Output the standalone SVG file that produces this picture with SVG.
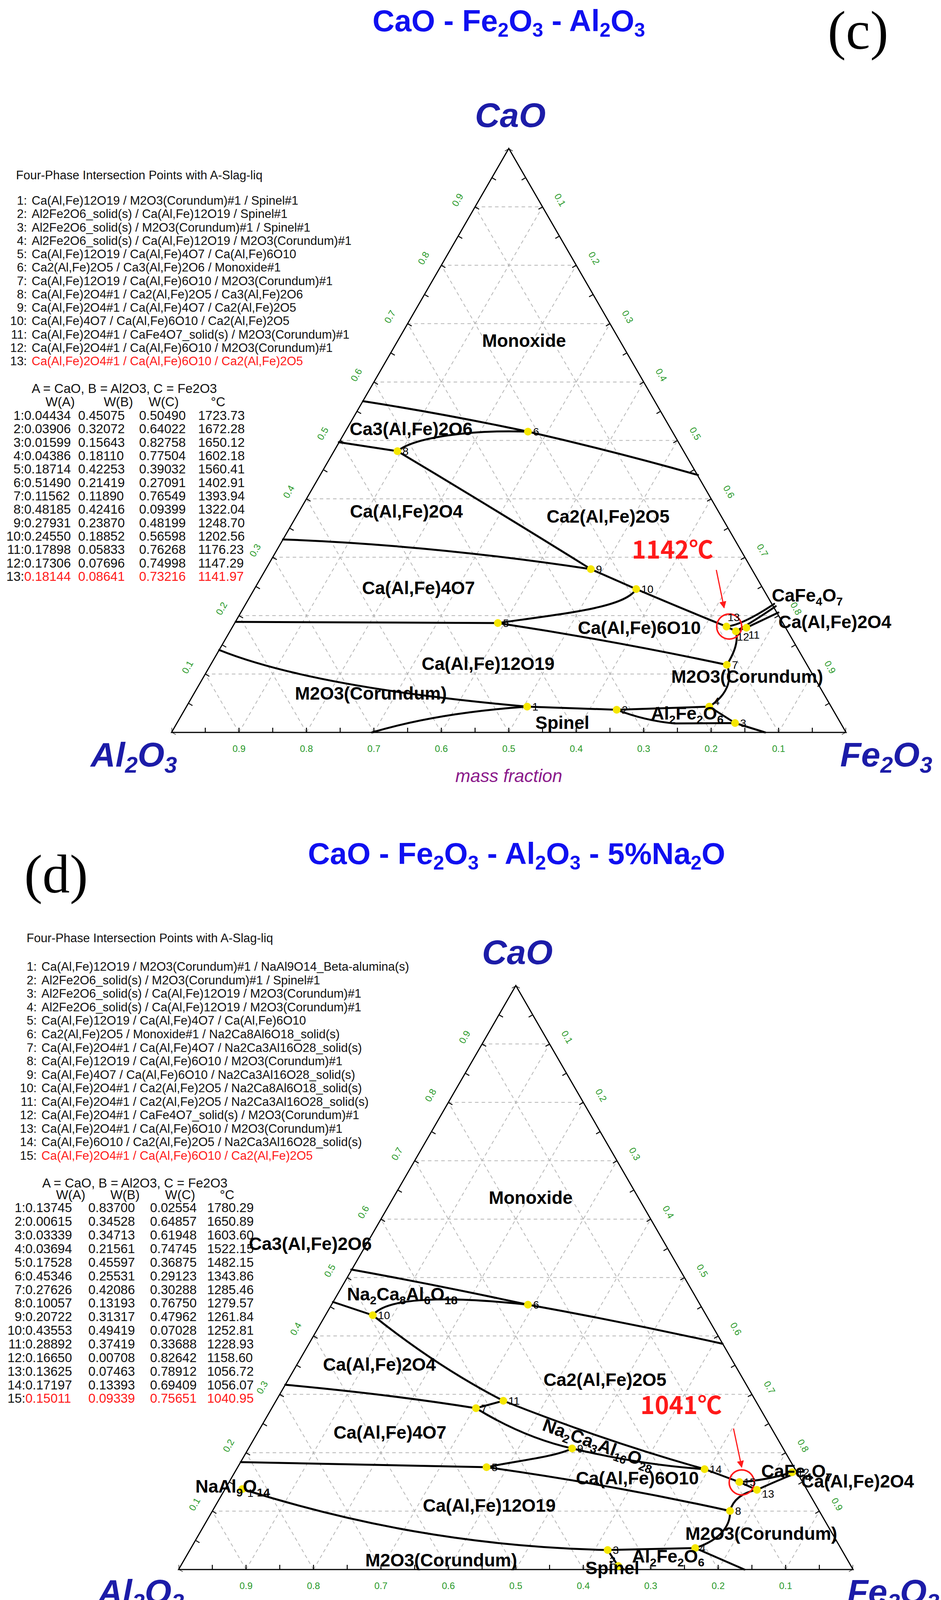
<svg xmlns="http://www.w3.org/2000/svg" xmlns:xlink="http://www.w3.org/1999/xlink" width="2408" height="4178" viewBox="0 0 2408 4178">
<style>
text{font-family:"Liberation Sans",Arial,sans-serif}
.ttl{font-weight:bold;font-size:78px;fill:#1010f0}
.pl{font-family:"Liberation Serif",serif;font-size:140px;fill:#000}
.ax{font-weight:bold;font-style:italic;font-size:88px;fill:#1c1ca8}
.mf{font-style:italic;font-size:46px;fill:#8b1a8b}
.tk{font-size:24px;fill:#2a9a2a}
.lab{font-weight:bold;font-size:46px;fill:#000}
.num{font-size:28px;fill:#000}
.lst{font-size:31px;fill:#111}
.tbl{font-size:33px;fill:#111}
.red{fill:#ff1a1a}
.tmp{font-family:"Noto Sans CJK SC","Liberation Sans",sans-serif;font-size:62px;fill:#ff1a1a}
.grid{fill:none;stroke:#b5b5b5;stroke-width:2;stroke-dasharray:9 8}
.edge{fill:none;stroke:#000;stroke-width:3}
.tick{fill:none;stroke:#000;stroke-width:12;stroke-dasharray:2.5 83.8;stroke-dashoffset:1.25}
.bd{fill:none;stroke:#000;stroke-width:5;stroke-linejoin:round;stroke-linecap:round}
.pt{fill:#f5e600}
.arr{stroke:#ff1a1a;stroke-width:3;fill:none}
.cir{stroke:#ff1a1a;stroke-width:4;fill:none}
</style>
<defs>
<marker id="ah" viewBox="0 0 10 10" refX="9" refY="5" markerWidth="6" markerHeight="6" orient="auto"><path d="M0 0L10 5L0 10z" fill="#ff1a1a"/></marker>
<g id="frame">
<path class="grid" d="M525.3 1725.5H2078.7M611.6 1576H1992.4M697.9 1426.5H1906.1M784.2 1277H1819.8M870.5 1127.5H1733.5M956.8 978H1647.2M1043.1 828.5H1560.9M1129.4 679H1474.6M1215.7 529.5H1388.3
M611.6 1875L1388.3 529.5M784.2 1875L1474.6 679M956.8 1875L1560.9 828.5M1129.4 1875L1647.2 978M1302 1875L1733.5 1127.5M1474.6 1875L1819.8 1277M1647.2 1875L1906.1 1426.5M1819.8 1875L1992.4 1576M1992.4 1875L2078.7 1725.5
M1992.4 1875L1215.7 529.5M1819.8 1875L1129.4 679M1647.2 1875L1043.1 828.5M1474.6 1875L956.8 978M1302 1875L870.5 1127.5M1129.4 1875L784.2 1277M956.8 1875L697.9 1426.5M784.2 1875L611.6 1576M611.6 1875L525.3 1725.5"/>
<path class="tick" d="M439 1869H2165"/>
<path class="tick" d="M444.2 1878L1307.2 383"/>
<path class="tick" d="M2159.8 1878L1296.8 383"/>
<path class="edge" d="M1302 380L2165 1875H439Z"/>
<g class="tk" text-anchor="middle">
<text transform="translate(1178 516) rotate(-60)">0.9</text>
<text transform="translate(1091 665) rotate(-60)">0.8</text>
<text transform="translate(1005 815) rotate(-60)">0.7</text>
<text transform="translate(919 964) rotate(-60)">0.6</text>
<text transform="translate(833 1114) rotate(-60)">0.5</text>
<text transform="translate(746 1263) rotate(-60)">0.4</text>
<text transform="translate(660 1413) rotate(-60)">0.3</text>
<text transform="translate(574 1562) rotate(-60)">0.2</text>
<text transform="translate(487 1712) rotate(-60)">0.1</text>
<text transform="translate(1426 516) rotate(60)">0.1</text>
<text transform="translate(1513 665) rotate(60)">0.2</text>
<text transform="translate(1599 815) rotate(60)">0.3</text>
<text transform="translate(1685 964) rotate(60)">0.4</text>
<text transform="translate(1772 1114) rotate(60)">0.5</text>
<text transform="translate(1858 1263) rotate(60)">0.6</text>
<text transform="translate(1944 1413) rotate(60)">0.7</text>
<text transform="translate(2030 1562) rotate(60)">0.8</text>
<text transform="translate(2117 1712) rotate(60)">0.9</text>
<text x="611.6" y="1925">0.9</text><text x="784.2" y="1925">0.8</text><text x="956.8" y="1925">0.7</text><text x="1129.4" y="1925">0.6</text><text x="1302" y="1925">0.5</text><text x="1474.6" y="1925">0.4</text><text x="1647.2" y="1925">0.3</text><text x="1819.8" y="1925">0.2</text><text x="1992.4" y="1925">0.1</text>
</g>
<text class="ax" x="1306" y="325" text-anchor="middle">CaO</text>
<text class="ax" x="232" y="1962">Al<tspan font-size="58" dy="16">2</tspan><tspan dy="-16">O</tspan><tspan font-size="58" dy="16">3</tspan></text>
<text class="ax" x="2150" y="1962">Fe<tspan font-size="58" dy="16">2</tspan><tspan dy="-16">O</tspan><tspan font-size="58" dy="16">3</tspan></text>
<text class="mf" x="1302" y="2002" text-anchor="middle">mass fraction</text>
</g>
</defs>

<!-- ============ PANEL (c) ============ -->
<g id="panel-c">
<text class="ttl" x="1302" y="80" text-anchor="middle">CaO - Fe<tspan font-size="50" dy="14">2</tspan><tspan dy="-14">O</tspan><tspan font-size="50" dy="14">3</tspan><tspan dy="-14"> - Al</tspan><tspan font-size="50" dy="14">2</tspan><tspan dy="-14">O</tspan><tspan font-size="50" dy="14">3</tspan></text>
<text class="pl" x="2118" y="125">(c)</text>
<use href="#frame"/>
</g>

<g id="list-c">
<text class="lst" x="41" y="459">Four-Phase Intersection Points with A-Slag-liq</text>
<g class="lst">
<text y="524"><tspan x="69" text-anchor="end">1:</tspan><tspan x="81" text-anchor="start">Ca(Al,Fe)12O19 / M2O3(Corundum)#1 / Spinel#1</tspan></text>
<text y="558"><tspan x="69" text-anchor="end">2:</tspan><tspan x="81" text-anchor="start">Al2Fe2O6_solid(s) / Ca(Al,Fe)12O19 / Spinel#1</tspan></text>
<text y="593"><tspan x="69" text-anchor="end">3:</tspan><tspan x="81" text-anchor="start">Al2Fe2O6_solid(s) / M2O3(Corundum)#1 / Spinel#1</tspan></text>
<text y="627"><tspan x="69" text-anchor="end">4:</tspan><tspan x="81" text-anchor="start">Al2Fe2O6_solid(s) / Ca(Al,Fe)12O19 / M2O3(Corundum)#1</tspan></text>
<text y="661"><tspan x="69" text-anchor="end">5:</tspan><tspan x="81" text-anchor="start">Ca(Al,Fe)12O19 / Ca(Al,Fe)4O7 / Ca(Al,Fe)6O10</tspan></text>
<text y="695"><tspan x="69" text-anchor="end">6:</tspan><tspan x="81" text-anchor="start">Ca2(Al,Fe)2O5 / Ca3(Al,Fe)2O6 / Monoxide#1</tspan></text>
<text y="730"><tspan x="69" text-anchor="end">7:</tspan><tspan x="81" text-anchor="start">Ca(Al,Fe)12O19 / Ca(Al,Fe)6O10 / M2O3(Corundum)#1</tspan></text>
<text y="764"><tspan x="69" text-anchor="end">8:</tspan><tspan x="81" text-anchor="start">Ca(Al,Fe)2O4#1 / Ca2(Al,Fe)2O5 / Ca3(Al,Fe)2O6</tspan></text>
<text y="798"><tspan x="69" text-anchor="end">9:</tspan><tspan x="81" text-anchor="start">Ca(Al,Fe)2O4#1 / Ca(Al,Fe)4O7 / Ca2(Al,Fe)2O5</tspan></text>
<text y="832"><tspan x="69" text-anchor="end">10:</tspan><tspan x="81" text-anchor="start">Ca(Al,Fe)4O7 / Ca(Al,Fe)6O10 / Ca2(Al,Fe)2O5</tspan></text>
<text y="867"><tspan x="69" text-anchor="end">11:</tspan><tspan x="81" text-anchor="start">Ca(Al,Fe)2O4#1 / CaFe4O7_solid(s) / M2O3(Corundum)#1</tspan></text>
<text y="901"><tspan x="69" text-anchor="end">12:</tspan><tspan x="81" text-anchor="start">Ca(Al,Fe)2O4#1 / Ca(Al,Fe)6O10 / M2O3(Corundum)#1</tspan></text>
<text y="935"><tspan x="69" text-anchor="end">13:</tspan><tspan x="81" text-anchor="start" class="red">Ca(Al,Fe)2O4#1 / Ca(Al,Fe)6O10 / Ca2(Al,Fe)2O5</tspan></text>
</g>
<g class="tbl">
<text x="81" y="1006">A = CaO,  B = Al2O3,  C = Fe2O3</text>
<text y="1040" text-anchor="middle"><tspan x="154">W(A)</tspan><tspan x="303">W(B)</tspan><tspan x="419">W(C)</tspan><tspan x="558">°C</tspan></text>
<text y="1075"><tspan x="62" text-anchor="end">1:</tspan><tspan x="62">0.04434</tspan><tspan x="200">0.45075</tspan><tspan x="356">0.50490</tspan><tspan x="507">1723.73</tspan></text>
<text y="1109"><tspan x="62" text-anchor="end">2:</tspan><tspan x="62">0.03906</tspan><tspan x="200">0.32072</tspan><tspan x="356">0.64022</tspan><tspan x="507">1672.28</tspan></text>
<text y="1144"><tspan x="62" text-anchor="end">3:</tspan><tspan x="62">0.01599</tspan><tspan x="200">0.15643</tspan><tspan x="356">0.82758</tspan><tspan x="507">1650.12</tspan></text>
<text y="1178"><tspan x="62" text-anchor="end">4:</tspan><tspan x="62">0.04386</tspan><tspan x="200">0.18110</tspan><tspan x="356">0.77504</tspan><tspan x="507">1602.18</tspan></text>
<text y="1212"><tspan x="62" text-anchor="end">5:</tspan><tspan x="62">0.18714</tspan><tspan x="200">0.42253</tspan><tspan x="356">0.39032</tspan><tspan x="507">1560.41</tspan></text>
<text y="1247"><tspan x="62" text-anchor="end">6:</tspan><tspan x="62">0.51490</tspan><tspan x="200">0.21419</tspan><tspan x="356">0.27091</tspan><tspan x="507">1402.91</tspan></text>
<text y="1281"><tspan x="62" text-anchor="end">7:</tspan><tspan x="62">0.11562</tspan><tspan x="200">0.11890</tspan><tspan x="356">0.76549</tspan><tspan x="507">1393.94</tspan></text>
<text y="1315"><tspan x="62" text-anchor="end">8:</tspan><tspan x="62">0.48185</tspan><tspan x="200">0.42416</tspan><tspan x="356">0.09399</tspan><tspan x="507">1322.04</tspan></text>
<text y="1350"><tspan x="62" text-anchor="end">9:</tspan><tspan x="62">0.27931</tspan><tspan x="200">0.23870</tspan><tspan x="356">0.48199</tspan><tspan x="507">1248.70</tspan></text>
<text y="1384"><tspan x="62" text-anchor="end">10:</tspan><tspan x="62">0.24550</tspan><tspan x="200">0.18852</tspan><tspan x="356">0.56598</tspan><tspan x="507">1202.56</tspan></text>
<text y="1418"><tspan x="62" text-anchor="end">11:</tspan><tspan x="62">0.17898</tspan><tspan x="200">0.05833</tspan><tspan x="356">0.76268</tspan><tspan x="507">1176.23</tspan></text>
<text y="1453"><tspan x="62" text-anchor="end">12:</tspan><tspan x="62">0.17306</tspan><tspan x="200">0.07696</tspan><tspan x="356">0.74998</tspan><tspan x="507">1147.29</tspan></text>
<text y="1487"><tspan x="62" text-anchor="end">13:</tspan><tspan x="62" class="red">0.18144</tspan><tspan x="200" class="red">0.08641</tspan><tspan x="356" class="red">0.73216</tspan><tspan x="507" class="red">1141.97</tspan></text>
</g>
</g>

<g id="connectors-c">
<path class="bd" d="M929 1027Q1140 1060 1351 1105Q1570 1155 1786 1216"/>
<path class="bd" d="M867 1132L1017 1155"/>
<path class="bd" d="M1017 1155C1060 1120 1200 1100 1351 1105"/>
<path class="bd" d="M1017 1155Q1260 1300 1512 1457L1628 1508Q1750 1560 1859 1604"/>
<path class="bd" d="M724 1381Q1100 1395 1512 1457"/>
<path class="bd" d="M1628 1508C1600 1555 1450 1570 1274 1595"/>
<path class="bd" d="M603 1592L1274 1595Q1570 1640 1860 1702"/>
<path class="bd" d="M561 1664Q800 1760 1349 1809L1578 1817L1815 1809"/>
<path class="bd" d="M952 1875Q1120 1825 1349 1809"/>
<path class="bd" d="M1578 1817Q1650 1845 1726 1852L1881 1851L1958 1875"/>
<path class="bd" d="M1815 1809L1881 1851"/>
<path class="bd" d="M1815 1809C1860 1780 1876 1740 1860 1702C1880 1670 1890 1640 1883 1616"/>
<path class="bd" d="M1859 1604L1883 1616L1910 1607"/>
<path class="bd" d="M1859 1604Q1900 1600 1981 1546"/>
<path class="bd" d="M1883 1616Q1930 1590 1985 1552"/>
<path class="bd" d="M1910 1607L1992 1568"/>
<path class="arr" d="M1833 1459L1853 1556" marker-end="url(#ah)"/>
<circle class="cir" cx="1866" cy="1604" r="32"/>
</g>

<g id="nodes-c">
<g id="pc1"><circle class="pt" cx="1349" cy="1809" r="10"/><text class="num" x="1362" y="1819">1</text></g>
<g id="pc2"><circle class="pt" cx="1578" cy="1817" r="10"/><text class="num" x="1591" y="1827">2</text></g>
<g id="pc3"><circle class="pt" cx="1881" cy="1851" r="10"/><text class="num" x="1894" y="1861">3</text></g>
<g id="pc4"><circle class="pt" cx="1815" cy="1809" r="10"/><text class="num" x="1826" y="1805">4</text></g>
<g id="pc5"><circle class="pt" cx="1274" cy="1595" r="10"/><text class="num" x="1287" y="1605">5</text></g>
<g id="pc6"><circle class="pt" cx="1351" cy="1105" r="10"/><text class="num" x="1364" y="1115">6</text></g>
<g id="pc7"><circle class="pt" cx="1860" cy="1702" r="10"/><text class="num" x="1873" y="1712">7</text></g>
<g id="pc8"><circle class="pt" cx="1017" cy="1155" r="10"/><text class="num" x="1030" y="1165">8</text></g>
<g id="pc9"><circle class="pt" cx="1512" cy="1457" r="10"/><text class="num" x="1525" y="1467">9</text></g>
<g id="pc10"><circle class="pt" cx="1628" cy="1508" r="10"/><text class="num" x="1641" y="1518">10</text></g>
<g id="pc11"><circle class="pt" cx="1910" cy="1607" r="10"/><text class="num" x="1915" y="1635">11</text></g>
<g id="pc12"><circle class="pt" cx="1883" cy="1616" r="10"/><text class="num" x="1886" y="1640">12</text></g>
<g id="pc13"><circle class="pt" cx="1859" cy="1604" r="10"/><text class="num" x="1862" y="1590">13</text></g>
</g>

<g id="labels-c" class="lab" text-anchor="middle">
<text x="1341" y="888">Monoxide</text>
<text x="1052" y="1114">Ca3(Al,Fe)2O6</text>
<text x="1040" y="1325">Ca(Al,Fe)2O4</text>
<text x="1556" y="1338">Ca2(Al,Fe)2O5</text>
<text x="1071" y="1521">Ca(Al,Fe)4O7</text>
<text x="1636" y="1623">Ca(Al,Fe)6O10</text>
<text x="1249" y="1715">Ca(Al,Fe)12O19</text>
<text x="949" y="1791">M2O3(Corundum)</text>
<text x="1912" y="1748">M2O3(Corundum)</text>
<text x="1439" y="1866">Spinel</text>
<text x="1759" y="1842">Al<tspan font-size="30" dy="10">2</tspan><tspan dy="-10">Fe</tspan><tspan font-size="30" dy="10">2</tspan><tspan dy="-10">O</tspan><tspan font-size="30" dy="10">6</tspan></text>
<text x="1975" y="1540" text-anchor="start">CaFe<tspan font-size="30" dy="10">4</tspan><tspan dy="-10">O</tspan><tspan font-size="30" dy="10">7</tspan></text>
<text x="1992" y="1608" text-anchor="start">Ca(Al,Fe)2O4</text>
<text class="tmp" x="1721" y="1430">1142℃</text>
</g>

<!-- ============ PANEL (d) ============ -->
<g id="panel-d">
<text class="ttl" x="1322" y="2212" text-anchor="middle">CaO - Fe<tspan font-size="50" dy="14">2</tspan><tspan dy="-14">O</tspan><tspan font-size="50" dy="14">3</tspan><tspan dy="-14"> - Al</tspan><tspan font-size="50" dy="14">2</tspan><tspan dy="-14">O</tspan><tspan font-size="50" dy="14">3</tspan><tspan dy="-14"> - 5%Na</tspan><tspan font-size="50" dy="14">2</tspan><tspan dy="-14">O</tspan></text>
<text class="pl" x="62" y="2285">(d)</text>
<use href="#frame" transform="translate(18 2143)"/>
</g>

<g id="list-d">
<text class="lst" x="68" y="2412">Four-Phase Intersection Points with A-Slag-liq</text>
<g class="lst">
<text y="2485"><tspan x="94" text-anchor="end">1:</tspan><tspan x="106">Ca(Al,Fe)12O19 / M2O3(Corundum)#1 / NaAl9O14_Beta-alumina(s)</tspan></text>
<text y="2520"><tspan x="94" text-anchor="end">2:</tspan><tspan x="106">Al2Fe2O6_solid(s) / M2O3(Corundum)#1 / Spinel#1</tspan></text>
<text y="2554"><tspan x="94" text-anchor="end">3:</tspan><tspan x="106">Al2Fe2O6_solid(s) / Ca(Al,Fe)12O19 / M2O3(Corundum)#1</tspan></text>
<text y="2589"><tspan x="94" text-anchor="end">4:</tspan><tspan x="106">Al2Fe2O6_solid(s) / Ca(Al,Fe)12O19 / M2O3(Corundum)#1</tspan></text>
<text y="2623"><tspan x="94" text-anchor="end">5:</tspan><tspan x="106">Ca(Al,Fe)12O19 / Ca(Al,Fe)4O7 / Ca(Al,Fe)6O10</tspan></text>
<text y="2658"><tspan x="94" text-anchor="end">6:</tspan><tspan x="106">Ca2(Al,Fe)2O5 / Monoxide#1 / Na2Ca8Al6O18_solid(s)</tspan></text>
<text y="2693"><tspan x="94" text-anchor="end">7:</tspan><tspan x="106">Ca(Al,Fe)2O4#1 / Ca(Al,Fe)4O7 / Na2Ca3Al16O28_solid(s)</tspan></text>
<text y="2727"><tspan x="94" text-anchor="end">8:</tspan><tspan x="106">Ca(Al,Fe)12O19 / Ca(Al,Fe)6O10 / M2O3(Corundum)#1</tspan></text>
<text y="2762"><tspan x="94" text-anchor="end">9:</tspan><tspan x="106">Ca(Al,Fe)4O7 / Ca(Al,Fe)6O10 / Na2Ca3Al16O28_solid(s)</tspan></text>
<text y="2796"><tspan x="94" text-anchor="end">10:</tspan><tspan x="106">Ca(Al,Fe)2O4#1 / Ca2(Al,Fe)2O5 / Na2Ca8Al6O18_solid(s)</tspan></text>
<text y="2831"><tspan x="94" text-anchor="end">11:</tspan><tspan x="106">Ca(Al,Fe)2O4#1 / Ca2(Al,Fe)2O5 / Na2Ca3Al16O28_solid(s)</tspan></text>
<text y="2865"><tspan x="94" text-anchor="end">12:</tspan><tspan x="106">Ca(Al,Fe)2O4#1 / CaFe4O7_solid(s) / M2O3(Corundum)#1</tspan></text>
<text y="2900"><tspan x="94" text-anchor="end">13:</tspan><tspan x="106">Ca(Al,Fe)2O4#1 / Ca(Al,Fe)6O10 / M2O3(Corundum)#1</tspan></text>
<text y="2934"><tspan x="94" text-anchor="end">14:</tspan><tspan x="106">Ca(Al,Fe)6O10 / Ca2(Al,Fe)2O5 / Na2Ca3Al16O28_solid(s)</tspan></text>
<text y="2969"><tspan x="94" text-anchor="end">15:</tspan><tspan x="106" class="red">Ca(Al,Fe)2O4#1 / Ca(Al,Fe)6O10 / Ca2(Al,Fe)2O5</tspan></text>
</g>
<g class="tbl">
<text x="108" y="3040">A = CaO,  B = Al2O3,  C = Fe2O3</text>
<text y="3070" text-anchor="middle"><tspan x="181">W(A)</tspan><tspan x="320">W(B)</tspan><tspan x="461">W(C)</tspan><tspan x="581">°C</tspan></text>
<text y="3103"><tspan x="65" text-anchor="end">1:</tspan><tspan x="65">0.13745</tspan><tspan x="226">0.83700</tspan><tspan x="384">0.02554</tspan><tspan x="530">1780.29</tspan></text>
<text y="3138"><tspan x="65" text-anchor="end">2:</tspan><tspan x="65">0.00615</tspan><tspan x="226">0.34528</tspan><tspan x="384">0.64857</tspan><tspan x="530">1650.89</tspan></text>
<text y="3173"><tspan x="65" text-anchor="end">3:</tspan><tspan x="65">0.03339</tspan><tspan x="226">0.34713</tspan><tspan x="384">0.61948</tspan><tspan x="530">1603.60</tspan></text>
<text y="3208"><tspan x="65" text-anchor="end">4:</tspan><tspan x="65">0.03694</tspan><tspan x="226">0.21561</tspan><tspan x="384">0.74745</tspan><tspan x="530">1522.15</tspan></text>
<text y="3243"><tspan x="65" text-anchor="end">5:</tspan><tspan x="65">0.17528</tspan><tspan x="226">0.45597</tspan><tspan x="384">0.36875</tspan><tspan x="530">1482.15</tspan></text>
<text y="3278"><tspan x="65" text-anchor="end">6:</tspan><tspan x="65">0.45346</tspan><tspan x="226">0.25531</tspan><tspan x="384">0.29123</tspan><tspan x="530">1343.86</tspan></text>
<text y="3313"><tspan x="65" text-anchor="end">7:</tspan><tspan x="65">0.27626</tspan><tspan x="226">0.42086</tspan><tspan x="384">0.30288</tspan><tspan x="530">1285.46</tspan></text>
<text y="3347"><tspan x="65" text-anchor="end">8:</tspan><tspan x="65">0.10057</tspan><tspan x="226">0.13193</tspan><tspan x="384">0.76750</tspan><tspan x="530">1279.57</tspan></text>
<text y="3382"><tspan x="65" text-anchor="end">9:</tspan><tspan x="65">0.20722</tspan><tspan x="226">0.31317</tspan><tspan x="384">0.47962</tspan><tspan x="530">1261.84</tspan></text>
<text y="3417"><tspan x="65" text-anchor="end">10:</tspan><tspan x="65">0.43553</tspan><tspan x="226">0.49419</tspan><tspan x="384">0.07028</tspan><tspan x="530">1252.81</tspan></text>
<text y="3452"><tspan x="65" text-anchor="end">11:</tspan><tspan x="65">0.28892</tspan><tspan x="226">0.37419</tspan><tspan x="384">0.33688</tspan><tspan x="530">1228.93</tspan></text>
<text y="3487"><tspan x="65" text-anchor="end">12:</tspan><tspan x="65">0.16650</tspan><tspan x="226">0.00708</tspan><tspan x="384">0.82642</tspan><tspan x="530">1158.60</tspan></text>
<text y="3522"><tspan x="65" text-anchor="end">13:</tspan><tspan x="65">0.13625</tspan><tspan x="226">0.07463</tspan><tspan x="384">0.78912</tspan><tspan x="530">1056.72</tspan></text>
<text y="3557"><tspan x="65" text-anchor="end">14:</tspan><tspan x="65">0.17197</tspan><tspan x="226">0.13393</tspan><tspan x="384">0.69409</tspan><tspan x="530">1056.07</tspan></text>
<text y="3591"><tspan x="65" text-anchor="end">15:</tspan><tspan x="65" class="red">0.15011</tspan><tspan x="226" class="red">0.09339</tspan><tspan x="384" class="red">0.75651</tspan><tspan x="530" class="red">1040.95</tspan></text>
</g>
</g>

<g id="connectors-d">
<path class="bd" d="M899 3250Q1120 3290 1351 3340Q1600 3385 1849 3440"/>
<path class="bd" d="M852 3333L954 3367"/>
<path class="bd" d="M954 3367C990 3320 1150 3318 1351 3340"/>
<path class="bd" d="M954 3367Q1120 3500 1288 3586Q1550 3690 1803 3761L1892 3794"/>
<path class="bd" d="M730 3545Q1000 3570 1218 3605L1288 3586"/>
<path class="bd" d="M1218 3605Q1340 3680 1464 3708Q1640 3750 1803 3761"/>
<path class="bd" d="M1245 3756C1320 3740 1420 3730 1464 3708"/>
<path class="bd" d="M616 3743L1245 3756Q1560 3800 1868 3868"/>
<path class="bd" d="M620 3812C900 3900 1200 3960 1555 3968L1779 3963"/>
<path class="bd" d="M1555 3968L1582 4009L1597 4018"/>
<path class="bd" d="M1779 3963C1850 3940 1870 3900 1868 3868"/>
<path class="bd" d="M1779 3963L1905 4018"/>
<path class="bd" d="M1868 3868Q1880 3825 1937 3814"/>
<path class="bd" d="M1892 3794L1937 3814"/>
<path class="bd" d="M1892 3794Q1960 3790 2027 3769"/>
<path class="bd" d="M1937 3814Q1990 3790 2035 3772"/>
<path class="arr" d="M1877 3657L1898 3756" marker-end="url(#ah)"/>
<circle class="cir" cx="1898" cy="3795" r="32"/>
</g>

<g id="nodes-d">
<g id="pd1"><circle class="pt" cx="620" cy="3812" r="10"/><text class="num" x="633" y="3832">1</text></g>
<g id="pd2"><circle class="pt" cx="1582" cy="4009" r="10"/><text class="num" x="1560" y="4005">2</text></g>
<g id="pd3"><circle class="pt" cx="1555" cy="3968" r="10"/><text class="num" x="1568" y="3978">3</text></g>
<g id="pd4"><circle class="pt" cx="1779" cy="3963" r="10"/><text class="num" x="1790" y="3973">4</text></g>
<g id="pd5"><circle class="pt" cx="1245" cy="3756" r="10"/><text class="num" x="1258" y="3766">5</text></g>
<g id="pd6"><circle class="pt" cx="1351" cy="3340" r="10"/><text class="num" x="1364" y="3350">6</text></g>
<g id="pd7"><circle class="pt" cx="1218" cy="3605" r="10"/><text class="num" x="1231" y="3615">7</text></g>
<g id="pd8"><circle class="pt" cx="1868" cy="3868" r="10"/><text class="num" x="1881" y="3878">8</text></g>
<g id="pd9"><circle class="pt" cx="1464" cy="3708" r="10"/><text class="num" x="1477" y="3718">9</text></g>
<g id="pd10"><circle class="pt" cx="954" cy="3367" r="10"/><text class="num" x="967" y="3377">10</text></g>
<g id="pd11"><circle class="pt" cx="1288" cy="3586" r="10"/><text class="num" x="1301" y="3596">11</text></g>
<g id="pd12"><circle class="pt" cx="2027" cy="3769" r="10"/><text class="num" x="2040" y="3779">12</text></g>
<g id="pd13"><circle class="pt" cx="1937" cy="3814" r="10"/><text class="num" x="1950" y="3834">13</text></g>
<g id="pd14"><circle class="pt" cx="1803" cy="3761" r="10"/><text class="num" x="1816" y="3771">14</text></g>
<g id="pd15"><circle class="pt" cx="1892" cy="3794" r="10"/><text class="num" x="1903" y="3804">15</text></g>
</g>

<g id="labels-d" class="lab" text-anchor="middle">
<text x="1358" y="3082">Monoxide</text>
<text x="794" y="3200">Ca3(Al,Fe)2O6</text>
<text x="888" y="3329" text-anchor="start">Na<tspan font-size="30" dy="10">2</tspan><tspan dy="-10">Ca</tspan><tspan font-size="30" dy="10">8</tspan><tspan dy="-10">Al</tspan><tspan font-size="30" dy="10">6</tspan><tspan dy="-10">O</tspan><tspan font-size="30" dy="10">18</tspan></text>
<text x="971" y="3509">Ca(Al,Fe)2O4</text>
<text x="1548" y="3548">Ca2(Al,Fe)2O5</text>
<text x="998" y="3683">Ca(Al,Fe)4O7</text>
<text transform="translate(1526 3712) rotate(20)">Na<tspan font-size="30" dy="10">2</tspan><tspan dy="-10">Ca</tspan><tspan font-size="30" dy="10">3</tspan><tspan dy="-10">Al</tspan><tspan font-size="30" dy="10">16</tspan><tspan dy="-10">O</tspan><tspan font-size="30" dy="10">28</tspan></text>
<text x="1631" y="3800">Ca(Al,Fe)6O10</text>
<text x="1948" y="3782" text-anchor="start">CaFe<tspan font-size="30" dy="10">4</tspan><tspan dy="-10">O</tspan><tspan font-size="30" dy="10">7</tspan></text>
<text x="2050" y="3808" text-anchor="start">Ca(Al,Fe)2O4</text>
<text x="500" y="3821" text-anchor="start">NaAl<tspan font-size="30" dy="10">9</tspan><tspan dy="-10">O</tspan><tspan font-size="30" dy="10">14</tspan></text>
<text x="1252" y="3870">Ca(Al,Fe)12O19</text>
<text x="1948" y="3942">M2O3(Corundum)</text>
<text x="1129" y="4010">M2O3(Corundum)</text>
<text x="1567" y="4030">Spinel</text>
<text x="1710" y="4000">Al<tspan font-size="30" dy="10">2</tspan><tspan dy="-10">Fe</tspan><tspan font-size="30" dy="10">2</tspan><tspan dy="-10">O</tspan><tspan font-size="30" dy="10">6</tspan></text>
<text class="tmp" x="1743" y="3620">1041℃</text>
</g>
</svg>
